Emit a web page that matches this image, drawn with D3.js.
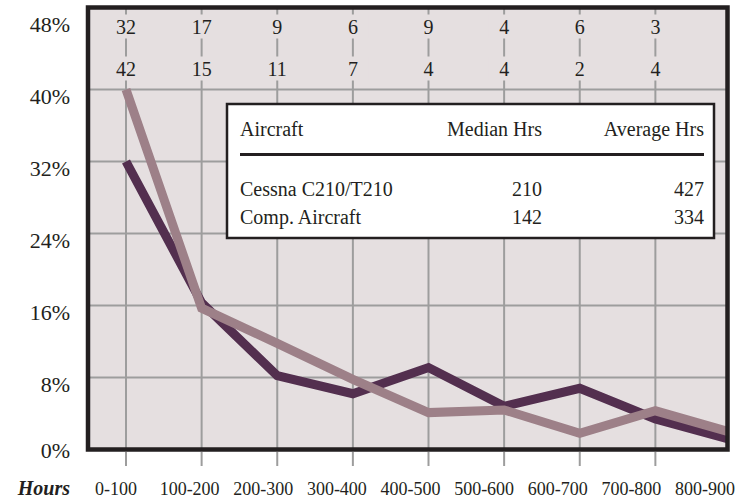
<!DOCTYPE html>
<html>
<head>
<meta charset="utf-8">
<script src="https://cdn.jsdelivr.net/npm/d3@7"></script>
<style>
  body { margin: 0; background: #fff; }
  text { font-family: "Liberation Serif", "DejaVu Serif", serif; fill: #231f20; }
</style>
</head>
<body>
<div id="chart"></div>
<script>
// Datos
const horas = ['0-100', '100-200', '200-300', '300-400', '400-500', '500-600', '600-700', '700-800', '800-900'];
const cessna = [32, 16.3, 8.2, 6.2, 9.1, 4.8, 6.8, 3.4, 1.1];
const comp = [40, 15.7, 11.8, 7.8, 4.1, 4.4, 1.8, 4.3, 1.9];
const cessnaCounts = [32, 17, 9, 6, 9, 4, 6, 3];
const compCounts = [42, 15, 11, 7, 4, 4, 2, 4];
const yTicks = [0, 8, 16, 24, 32, 40, 48];

const tablaCols = ['Aircraft', 'Median Hrs', 'Average Hrs'];
const tablaFilas = [
  ['Cessna C210/T210', 210, 427],
  ['Comp. Aircraft', 142, 334]
];

const width = 746;
const height = 499;

const svg = d3.select('#chart').append('svg')
  .attr('width', width)
  .attr('height', height);

// Escalas
const x = d3.scalePoint().domain(horas).range([126, 731]);
const xLabel = d3.scalePoint().domain(horas).range([116, 705]);
const y = d3.scaleLinear().domain([0, 48]).range([449.5, 17.5]);

const frame = { x0: 88, y0: 7.5, x1: 727.5, y1: 449.5 };

// Fondo del grafico
svg.append('rect')
  .attr('x', frame.x0).attr('y', frame.y0)
  .attr('width', frame.x1 - frame.x0).attr('height', frame.y1 - frame.y0)
  .attr('fill', '#e5dfe0');

svg.append('clipPath').attr('id', 'clip')
  .append('rect')
  .attr('x', frame.x0).attr('y', frame.y0)
  .attr('width', frame.x1 - frame.x0).attr('height', frame.y1 - frame.y0);

const grid = svg.append('g').attr('clip-path', 'url(#clip)');

// Lineas horizontales
grid.selectAll('.hgrid')
  .data(yTicks.filter(d => d > 0 && d < 48))
  .enter().append('line')
  .attr('x1', frame.x0).attr('x2', frame.x1)
  .attr('y1', d => y(d)).attr('y2', d => y(d))
  .attr('stroke', '#9d9d9d').attr('stroke-width', 2);

// Lineas verticales
grid.selectAll('.vgrid')
  .data(horas)
  .enter().append('line')
  .attr('x1', d => x(d)).attr('x2', d => x(d))
  .attr('y1', frame.y0).attr('y2', frame.y1)
  .attr('stroke', '#9d9d9d').attr('stroke-width', 2);

// Marcas debajo del eje
svg.selectAll('.stub')
  .data(horas.slice(0, cessnaCounts.length))
  .enter().append('line')
  .attr('x1', d => x(d)).attr('x2', d => x(d))
  .attr('y1', 452).attr('y2', 466)
  .attr('stroke', '#9d9d9d').attr('stroke-width', 2);

// Numeros arriba (con fondo para cortar la linea)
function filaNumeros(valores, cy) {
  const g = svg.append('g');
  g.selectAll('rect')
    .data(valores)
    .enter().append('rect')
    .attr('x', (d, i) => x(horas[i]) - 16)
    .attr('y', cy - 12)
    .attr('width', 32).attr('height', 24)
    .attr('fill', '#e5dfe0');
  g.selectAll('text')
    .data(valores)
    .enter().append('text')
    .attr('x', (d, i) => x(horas[i]))
    .attr('y', cy + 7)
    .attr('text-anchor', 'middle')
    .style('font-size', '20px')
    .text(d => d);
}
filaNumeros(cessnaCounts, 26.5);
filaNumeros(compCounts, 68.5);

// Lineas de datos
const line = d3.line()
  .x((d, i) => x(horas[i]))
  .y(d => y(d));

const series = svg.append('g').attr('clip-path', 'url(#clip)');
series.append('path')
  .datum(cessna)
  .attr('d', line)
  .attr('fill', 'none')
  .attr('stroke', '#532f4f')
  .attr('stroke-width', 9)
  .attr('stroke-linejoin', 'miter');

series.append('path')
  .datum(comp)
  .attr('d', line)
  .attr('fill', 'none')
  .attr('stroke', '#9d8088')
  .attr('stroke-width', 9)
  .attr('stroke-linejoin', 'miter');

// Marco
svg.append('rect')
  .attr('x', frame.x0).attr('y', frame.y0)
  .attr('width', frame.x1 - frame.x0).attr('height', frame.y1 - frame.y0)
  .attr('fill', 'none')
  .attr('stroke', '#231f20')
  .attr('stroke-width', 4.5);

// Eje Y
svg.selectAll('.ylab')
  .data(yTicks)
  .enter().append('text')
  .attr('x', 70)
  .attr('y', d => y(d) + (d === 0 ? 0 : 6) + 8)
  .attr('text-anchor', 'end')
  .style('font-size', '22px')
  .text(d => d + '%');

// Eje X
svg.selectAll('.xlab')
  .data(horas)
  .enter().append('text')
  .attr('x', d => xLabel(d))
  .attr('y', 495)
  .attr('text-anchor', 'middle')
  .style('font-size', '18px')
  .text(d => d);

svg.append('text')
  .attr('x', 70)
  .attr('y', 495)
  .attr('text-anchor', 'end')
  .style('font-size', '20px')
  .style('font-weight', 'bold')
  .style('font-style', 'italic')
  .text('Hours');

// Tabla / leyenda
const tabla = svg.append('g');
tabla.append('rect')
  .attr('x', 227).attr('y', 104)
  .attr('width', 487).attr('height', 134)
  .attr('fill', '#fff')
  .attr('stroke', '#231f20')
  .attr('stroke-width', 2.5);

const colX = [240, 542, 704];
const colAnchor = ['start', 'end', 'end'];

tabla.selectAll('.head')
  .data(tablaCols)
  .enter().append('text')
  .attr('x', (d, i) => colX[i])
  .attr('y', 136)
  .attr('text-anchor', (d, i) => colAnchor[i])
  .style('font-size', '20px')
  .text(d => d);

tabla.append('line')
  .attr('x1', 240).attr('x2', 704)
  .attr('y1', 154.5).attr('y2', 154.5)
  .attr('stroke', '#231f20')
  .attr('stroke-width', 3);

const filaY = [195.5, 224];
tablaFilas.forEach((fila, r) => {
  tabla.selectAll('.fila' + r)
    .data(fila)
    .enter().append('text')
    .attr('x', (d, i) => colX[i])
    .attr('y', filaY[r])
    .attr('text-anchor', (d, i) => colAnchor[i])
    .style('font-size', '20px')
    .text(d => d);
});
</script>
</body>
</html>
